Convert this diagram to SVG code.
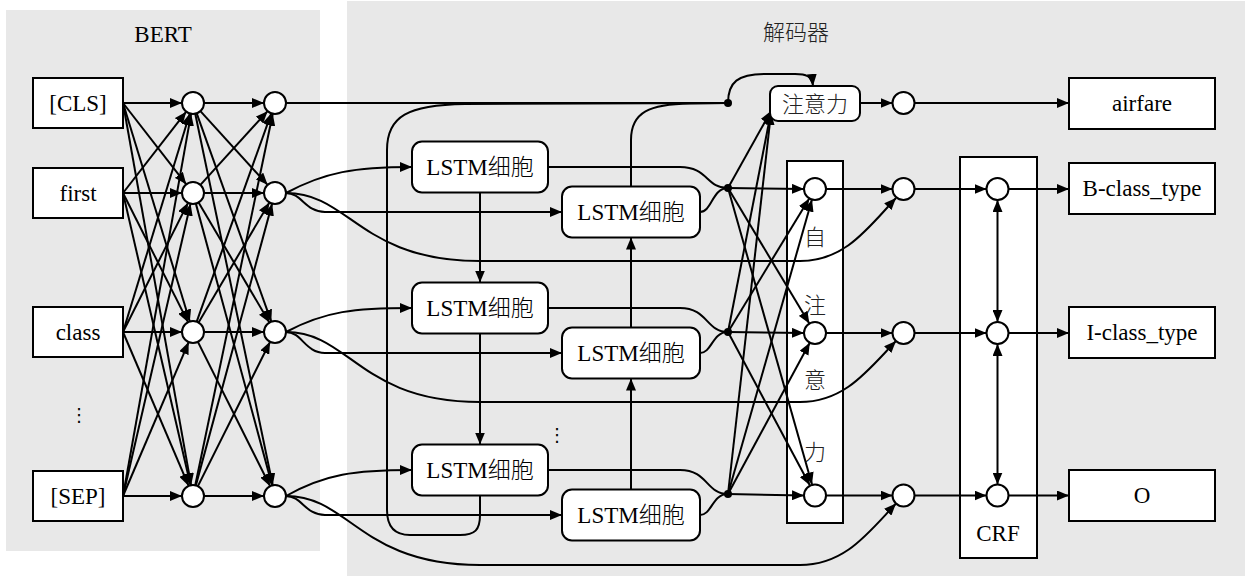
<svg xmlns="http://www.w3.org/2000/svg" width="1245" height="576" viewBox="0 0 1245 576">
<style>
.panel{fill:#e8e8e8;stroke:none}
.box{fill:#fff;stroke:#000;stroke-width:2}
.circ{fill:#fff;stroke:#000;stroke-width:2}
.ln{fill:none;stroke:#000;stroke-width:2}
.ar{fill:none;stroke:#000;stroke-width:2;marker-end:url(#ah)}
.dbl{fill:none;stroke:#000;stroke-width:2;marker-start:url(#ah);marker-end:url(#ah)}
.t{font-family:"Liberation Serif","Times New Roman",serif;font-size:23px;text-anchor:middle;fill:#000}
.cj{font-family:"Noto Sans CJK SC","Noto Sans CJK TC",sans-serif;font-weight:300}
.c{font-family:"Noto Sans CJK SC","Noto Sans CJK TC",sans-serif;font-size:22px;text-anchor:middle;fill:#222;font-weight:300}
.dots{font-family:"DejaVu Sans",sans-serif;font-size:18px;text-anchor:middle;fill:#000}
</style>
<defs>
<marker id="ah" viewBox="0 0 12 10" refX="12" refY="5" markerWidth="12" markerHeight="10" markerUnits="userSpaceOnUse" orient="auto-start-reverse"><path d="M0,0 L12,5 L0,10 z" fill="#000"/></marker>
</defs>

<g id="panels">
<rect id="bert-panel" class="panel" x="6" y="10" width="314" height="541"/>
<rect id="decoder-panel" class="panel" x="347" y="1" width="898" height="575"/>
<text class="t" x="163" y="42">BERT</text>
<text class="c" x="796" y="40">解码器</text>
</g>

<g id="self-attention">
<rect class="box" x="787" y="161" width="56" height="362"/>
<text class="c" x="815" y="245">自</text>
<text class="c" x="815" y="313">注</text>
<text class="c" x="815" y="388">意</text>
<text class="c" x="815" y="460">力</text>
</g>
<g id="crf">
<rect class="box" x="960" y="157" width="77" height="401"/>
<text class="t" x="998" y="541">CRF</text>
</g>

<g id="connectors">
<line class="ar" x1="123" y1="103" x2="182" y2="103"/>
<line class="ar" x1="123" y1="103" x2="186.25" y2="184.32"/>
<line class="ar" x1="123" y1="103" x2="189.8" y2="321.48"/>
<line class="ar" x1="123" y1="103" x2="191.07" y2="485.17"/>
<line class="ar" x1="123" y1="193" x2="186.25" y2="111.68"/>
<line class="ar" x1="123" y1="193" x2="182" y2="193"/>
<line class="ar" x1="123" y1="193" x2="188.05" y2="322.17"/>
<line class="ar" x1="123" y1="193" x2="190.52" y2="485.28"/>
<line class="ar" x1="123" y1="332" x2="189.8" y2="113.52"/>
<line class="ar" x1="123" y1="332" x2="188.05" y2="202.83"/>
<line class="ar" x1="123" y1="332" x2="182" y2="332"/>
<line class="ar" x1="123" y1="332" x2="188.68" y2="485.88"/>
<line class="ar" x1="123" y1="496" x2="191.07" y2="113.83"/>
<line class="ar" x1="123" y1="496" x2="190.52" y2="203.72"/>
<line class="ar" x1="123" y1="496" x2="188.68" y2="342.12"/>
<line class="ar" x1="123" y1="496" x2="182" y2="496"/>
<line class="ar" x1="204" y1="103" x2="264" y2="103"/>
<line class="ar" x1="200.41" y1="111.13" x2="267.59" y2="184.87"/>
<line class="ar" x1="196.71" y1="113.36" x2="271.29" y2="321.64"/>
<line class="ar" x1="195.25" y1="113.77" x2="272.75" y2="485.23"/>
<line class="ar" x1="200.41" y1="184.87" x2="267.59" y2="111.13"/>
<line class="ar" x1="204" y1="193" x2="264" y2="193"/>
<line class="ar" x1="198.59" y1="202.47" x2="269.41" y2="322.53"/>
<line class="ar" x1="195.87" y1="203.62" x2="272.13" y2="485.38"/>
<line class="ar" x1="196.71" y1="321.64" x2="271.29" y2="113.36"/>
<line class="ar" x1="198.59" y1="322.53" x2="269.41" y2="202.47"/>
<line class="ar" x1="204" y1="332" x2="264" y2="332"/>
<line class="ar" x1="197.92" y1="341.84" x2="270.08" y2="486.16"/>
<line class="ar" x1="195.25" y1="485.23" x2="272.75" y2="113.77"/>
<line class="ar" x1="195.87" y1="485.38" x2="272.13" y2="203.62"/>
<line class="ar" x1="197.92" y1="486.16" x2="270.08" y2="341.84"/>
<line class="ar" x1="204" y1="496" x2="264" y2="496"/>

<path class="ln" d="M286,103 L728,103"/>
<path class="ln" d="M480,495.5 L480,515 C480,530 475,535 460,535 L410,535 C395,535 387,527 387,510 L387,150 C387,116 408,105 465,104 L728,103"/>
<path class="ln" d="M631,186.5 L631,140 C631,112 650,104 690,103.5 L728,103"/>
<path class="ar" d="M728,103 C728,82 738,74 765,74 L795,74 C806,74 812,76 813,86"/>

<path class="ar" d="M286,193 C325,172 355,167 412,167"/>
<path class="ar" d="M286,193 C302,193 305,212 325,212 L562,212"/>
<path class="ar" d="M286,193 C350,193 360,261 480,261 L800,261 C845,261 868,228 896,198"/>
<path class="ar" d="M286,332 C325,311 355,308 412,308"/>
<path class="ar" d="M286,332 C302,332 305,353 325,353 L562,353"/>
<path class="ar" d="M286,332 C350,332 360,402 480,402 L800,402 C845,402 868,370 896,341"/>
<path class="ar" d="M286,496 C325,474 355,470 412,470"/>
<path class="ar" d="M286,496 C302,496 305,515 325,515 L562,515"/>
<path class="ar" d="M286,496 C350,496 360,565 480,565 L800,565 C845,565 868,533 896,503.5"/>

<line class="ar" x1="480" y1="192.5" x2="480" y2="282.5"/>
<line class="ar" x1="480" y1="333.5" x2="480" y2="444.5"/>
<line class="ar" x1="631" y1="489.5" x2="631" y2="378.5"/>
<line class="ar" x1="631" y1="327.5" x2="631" y2="237.5"/>

<path class="ln" d="M548,167 L680,167 C708,167 706,188 728,188"/>
<path class="ln" d="M700,212 C712,212 712,188 728,188"/>
<path class="ln" d="M548,308 L680,308 C708,308 706,332 728,332"/>
<path class="ln" d="M700,353 C712,353 712,332 728,332"/>
<path class="ln" d="M548,470 L680,470 C708,470 706,494 728,494"/>
<path class="ln" d="M700,515 C712,515 712,494 728,494"/>

<line class="ar" x1="728" y1="188" x2="771" y2="111"/>
<line class="ar" x1="728" y1="332" x2="771" y2="112"/>
<line class="ar" x1="728" y1="494" x2="771" y2="113"/>
<line class="ar" x1="728" y1="188" x2="804" y2="189"/>
<line class="ar" x1="728" y1="188" x2="809.34" y2="323.57"/>
<line class="ar" x1="728" y1="188" x2="812" y2="484.4"/>
<line class="ar" x1="728" y1="332" x2="809.28" y2="198.4"/>
<line class="ar" x1="728" y1="332" x2="804" y2="333"/>
<line class="ar" x1="728" y1="332" x2="809.82" y2="485.3"/>
<line class="ar" x1="728" y1="494" x2="811.98" y2="199.58"/>
<line class="ar" x1="728" y1="494" x2="809.77" y2="342.68"/>
<line class="ar" x1="728" y1="494" x2="804" y2="495.5"/>

<line class="ar" x1="860" y1="103" x2="892.5" y2="103"/>
<line class="ar" x1="914.5" y1="103" x2="1069" y2="103"/>
<line class="ar" x1="826" y1="189" x2="892.5" y2="189"/>
<line class="ar" x1="826" y1="333" x2="892.5" y2="333"/>
<line class="ar" x1="826" y1="495.5" x2="892.5" y2="495.5"/>
<line class="ar" x1="914.5" y1="189" x2="986.5" y2="189"/>
<line class="ar" x1="914.5" y1="333" x2="986.5" y2="333"/>
<line class="ar" x1="914.5" y1="495.5" x2="986.5" y2="495.5"/>
<line class="ar" x1="1008.5" y1="189" x2="1069" y2="189"/>
<line class="ar" x1="1008.5" y1="333" x2="1069" y2="333"/>
<line class="ar" x1="1008.5" y1="495.5" x2="1069" y2="495.5"/>
<line class="dbl" x1="997.5" y1="200" x2="997.5" y2="322"/>
<line class="dbl" x1="997.5" y1="344" x2="997.5" y2="484.5"/>
</g>

<g id="junctions">
<circle cx="728" cy="103" r="4"/>
<circle cx="728" cy="188" r="4"/>
<circle cx="728" cy="332" r="4"/>
<circle cx="728" cy="494" r="4"/>
</g>

<g id="input-cls"><rect class="box" x="33" y="78" width="90" height="50"/><text class="t" x="78" y="111">[CLS]</text></g>
<g id="input-first"><rect class="box" x="33" y="168" width="90" height="50"/><text class="t" x="78" y="201">first</text></g>
<g id="input-class"><rect class="box" x="33" y="307" width="90" height="50"/><text class="t" x="78" y="340">class</text></g>
<g id="input-sep"><rect class="box" x="33" y="471" width="90" height="50"/><text class="t" x="78" y="504">[SEP]</text></g>
<text class="dots" x="79" y="421">⋮</text>

<g id="bert-layer1">
<circle class="circ" cx="193" cy="103" r="11"/>
<circle class="circ" cx="193" cy="193" r="11"/>
<circle class="circ" cx="193" cy="332" r="11"/>
<circle class="circ" cx="193" cy="496" r="11"/>
</g>
<g id="bert-layer2">
<circle class="circ" cx="275" cy="103" r="11"/>
<circle class="circ" cx="275" cy="193" r="11"/>
<circle class="circ" cx="275" cy="332" r="11"/>
<circle class="circ" cx="275" cy="496" r="11"/>
</g>

<g id="lstm-f1"><rect class="box" x="412" y="141.5" width="136" height="51" rx="10"/><text class="t" x="480" y="175">LSTM<tspan class="cj">细胞</tspan></text></g>
<g id="lstm-f2"><rect class="box" x="412" y="282.5" width="136" height="51" rx="10"/><text class="t" x="480" y="316">LSTM<tspan class="cj">细胞</tspan></text></g>
<g id="lstm-f3"><rect class="box" x="412" y="444.5" width="136" height="51" rx="10"/><text class="t" x="480" y="478">LSTM<tspan class="cj">细胞</tspan></text></g>
<g id="lstm-b1"><rect class="box" x="562" y="186.5" width="138" height="51" rx="10"/><text class="t" x="631" y="220">LSTM<tspan class="cj">细胞</tspan></text></g>
<g id="lstm-b2"><rect class="box" x="562" y="327.5" width="138" height="51" rx="10"/><text class="t" x="631" y="361">LSTM<tspan class="cj">细胞</tspan></text></g>
<g id="lstm-b3"><rect class="box" x="562" y="489.5" width="138" height="51" rx="10"/><text class="t" x="631" y="523">LSTM<tspan class="cj">细胞</tspan></text></g>
<text class="dots" x="557" y="441">⋮</text>

<g id="attention"><rect class="box" x="770" y="86" width="90" height="35" rx="8"/><text class="c" x="815" y="112" fill="#000">注意力</text></g>
<g id="attn-circles">
<circle class="circ" cx="815" cy="189" r="11"/>
<circle class="circ" cx="815" cy="333" r="11"/>
<circle class="circ" cx="815" cy="495.5" r="11"/>
</g>
<g id="merge-circles">
<circle class="circ" cx="903.5" cy="103" r="11"/>
<circle class="circ" cx="903.5" cy="189" r="11"/>
<circle class="circ" cx="903.5" cy="333" r="11"/>
<circle class="circ" cx="903.5" cy="495.5" r="11"/>
</g>
<g id="crf-circles">
<circle class="circ" cx="997.5" cy="189" r="11"/>
<circle class="circ" cx="997.5" cy="333" r="11"/>
<circle class="circ" cx="997.5" cy="495.5" r="11"/>
</g>

<g id="out-airfare"><rect class="box" x="1069" y="78" width="146" height="51"/><text class="t" x="1142" y="111">airfare</text></g>
<g id="out-b"><rect class="box" x="1069" y="163" width="146" height="51"/><text class="t" x="1142" y="196">B-class_type</text></g>
<g id="out-i"><rect class="box" x="1069" y="307" width="146" height="51"/><text class="t" x="1142" y="340">I-class_type</text></g>
<g id="out-o"><rect class="box" x="1069" y="470" width="146" height="51"/><text class="t" x="1142" y="503">O</text></g>
</svg>
